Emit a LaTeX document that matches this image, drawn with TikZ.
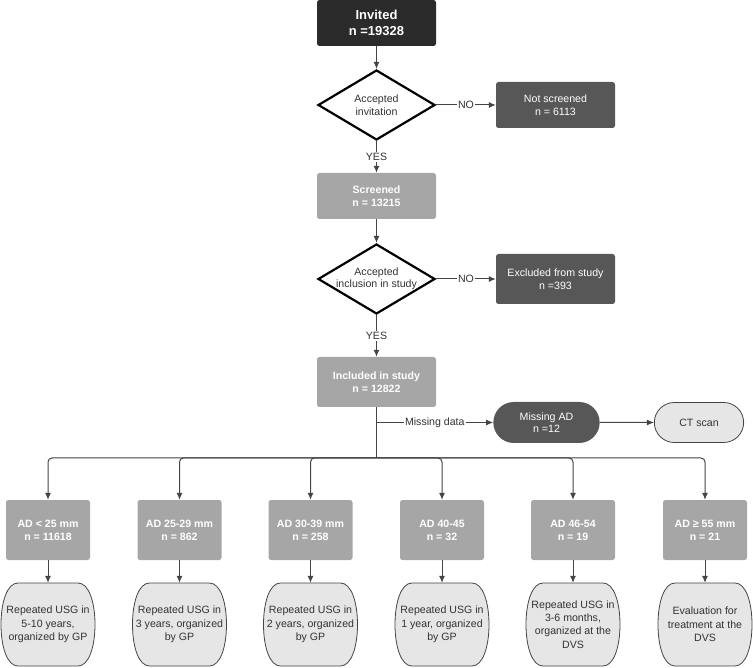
\documentclass[tikz,border=0pt]{standalone}
\usepackage{fontspec}
\setmainfont{Liberation Sans}
\usetikzlibrary{shapes.geometric,shapes.misc,arrows.meta}
\definecolor{darkbox}{HTML}{2B2B2B}
\definecolor{midbox}{HTML}{575757}
\definecolor{lightbox}{HTML}{A6A6A6}
\definecolor{palebox}{HTML}{E6E6E6}
\definecolor{linec}{HTML}{444444}
\definecolor{textc}{HTML}{333333}
\newcommand{\barrelshape}[2]{%
  \draw[outl] (#1-30,#2-41.5) -- (#1+30,#2-41.5)
    .. controls (#1+41,#2-41.5) and (#1+47,#2-22) .. (#1+47,#2)
    .. controls (#1+47,#2+22) and (#1+41,#2+41.5) .. (#1+30,#2+41.5)
    -- (#1-30,#2+41.5)
    .. controls (#1-41,#2+41.5) and (#1-47,#2+22) .. (#1-47,#2)
    .. controls (#1-47,#2-22) and (#1-41,#2-41.5) .. cycle;}
\begin{document}
\begin{tikzpicture}[x=1pt,y=-1pt,
  font=\fontsize{10.6}{12.5}\selectfont,
  box/.style={rectangle, rounded corners=2.5pt, minimum width=119pt, minimum height=46pt, inner sep=2pt, align=center, text=white},
  darkb/.style={box, fill=darkbox, font=\bfseries\fontsize{13}{16}\selectfont},
  midb/.style={box, fill=midbox},
  lightb/.style={box, fill=lightbox, font=\bfseries\fontsize{10.6}{13}\selectfont},
  adb/.style={lightb, minimum width=84pt, minimum height=60pt},
  dec/.style={diamond, draw=black, line width=2.2pt, fill=white, minimum width=117pt, minimum height=70pt, inner sep=0pt},
  declab/.style={align=center, text=textc},
  outl/.style={draw=linec, fill=palebox, line width=0.8pt},
  outc/.style={rectangle, minimum width=94pt, minimum height=83pt, inner sep=0pt, align=center, text=textc, font=\fontsize{10.6}{13.3}\selectfont},
  conn/.style={draw=linec, line width=1pt, -{Latex[length=7pt,width=6pt]}},
  lab/.style={fill=white, inner sep=1pt, text=textc}
]
\useasboundingbox (0,0) rectangle (753,668);

\node[darkb] (inv) at (376.5,23) {Invited\\n =19328};
\node[dec, label={[declab]center:Accepted\\invitation}] (d1) at (376.5,105) {};
\node[midb] (ns) at (555.5,105) {Not screened\\n = 6113};
\node[lightb] (scr) at (376.5,196) {Screened\\n = 13215};
\node[dec, label={[declab]center:Accepted\\inclusion in study}] (d2) at (376.5,279) {};
\node[midb, minimum height=50pt] (exc) at (555.5,279) {Excluded from study\\n =393};
\node[lightb, minimum height=50pt] (inc) at (376.5,382) {Included in study\\n = 12822};
\node[rounded rectangle, fill=midbox, text=white, minimum width=113pt, minimum height=41pt, align=center] (mad) at (546.5,422.5) {Missing AD\\n =12};
\node[rounded rectangle, draw=linec, fill=palebox, text=textc, minimum width=96pt, minimum height=40pt, line width=0.8pt] (ct) at (699,422.5) {CT scan};

\coordinate (br) at (376.5,422.5);
\coordinate (bus) at (376.5,458);

\node[adb] (a1) at (48,530) {AD < 25 mm\\n = 11618};
\node[adb] (a2) at (179.5,530) {AD 25-29 mm\\n = 862};
\node[adb] (a3) at (310.5,530) {AD 30-39 mm\\n = 258};
\node[adb] (a4) at (442,530) {AD 40-45\\n = 32};
\node[adb] (a5) at (573,530) {AD 46-54\\n = 19};
\node[adb] (a6) at (705,530) {AD ≥ 55 mm\\n = 21};

\barrelshape{48}{624.5}
\barrelshape{179.5}{624.5}
\barrelshape{310.5}{624.5}
\barrelshape{442}{624.5}
\barrelshape{573}{624.5}
\barrelshape{705}{624.5}
\node[outc] (o1) at (48,624.5) {Repeated USG in\\5-10 years,\\organized by GP};
\node[outc] (o2) at (179.5,624.5) {Repeated USG in\\3 years, organized\\by GP};
\node[outc] (o3) at (310.5,624.5) {Repeated USG in\\2 years, organized\\by GP};
\node[outc] (o4) at (442,624.5) {Repeated USG in\\1 year, organized\\by GP};
\node[outc] (o5) at (573,624.5) {Repeated USG in\\3-6 months,\\organized at the\\DVS};
\node[outc] (o6) at (705,624.5) {Evaluation for\\treatment at the\\DVS};

\draw[conn] (inv) -- (d1);
\draw[conn] (d1) -- node[lab]{NO} (ns);
\draw[conn] (d1) -- node[lab]{YES} (scr);
\draw[conn] (scr) -- (d2);
\draw[conn] (d2) -- node[lab]{NO} (exc);
\draw[conn] (d2) -- node[lab]{YES} (inc);
\draw[draw=linec, line width=1pt] (inc) -- (bus);
\draw[conn] (br) -- node[lab]{Missing data} (mad);
\draw[conn] (mad) -- (ct);
\foreach \i in {1,...,6}{
  \draw[conn, rounded corners=4pt] (bus) -| (a\i);
  \draw[conn] (a\i) -- (o\i);
}
\end{tikzpicture}
\end{document}
